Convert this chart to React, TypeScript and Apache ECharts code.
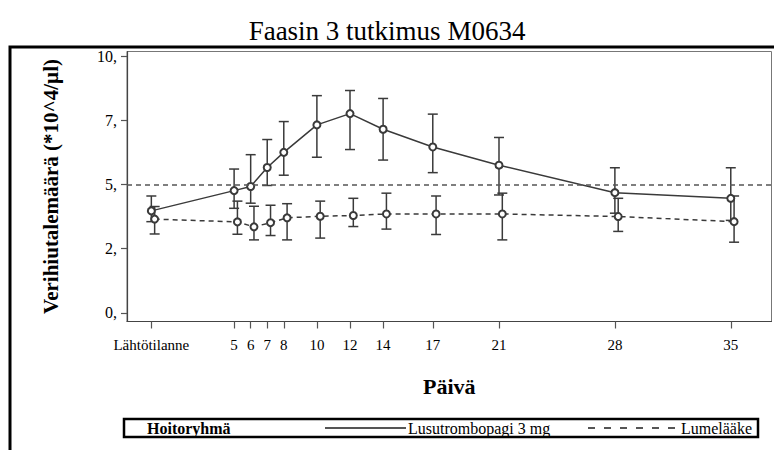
import React, { useEffect, useRef } from "react";
import * as echarts from "echarts";

const days = [0, 5, 6, 7, 8, 10, 12, 14, 17, 21, 28, 35];
const xTickLabels = ["Lähtötilanne", "5", "6", "7", "8", "10", "12", "14", "17", "21", "28", "35"];
const yTicks = [0, 2.5, 5, 7.5, 10];

const lusMean = [3.97, 4.76, 4.92, 5.66, 6.25, 7.32, 7.76, 7.15, 6.46, 5.75, 4.68, 4.46];
const lusLow = [3.55, 4.07, 4.27, 4.96, 5.36, 6.06, 6.36, 5.95, 5.46, 4.59, 3.88, 3.6];
const lusHigh = [4.55, 5.6, 6.16, 6.75, 7.45, 8.46, 8.66, 8.35, 7.74, 6.83, 5.65, 5.65];

const plaMean = [3.65, 3.54, 3.35, 3.51, 3.7, 3.76, 3.79, 3.85, 3.85, 3.85, 3.75, 3.55];
const plaLow = [3.07, 3.06, 2.84, 3.01, 2.84, 2.91, 3.36, 3.26, 3.05, 2.84, 3.17, 2.75];
const plaHigh = [4.14, 4.35, 4.15, 4.19, 4.25, 4.35, 4.46, 4.66, 4.55, 4.66, 4.46, 4.55];

const referenceLine = 5;

const DODGE = 0.2;
const LINE_COLOR = "#3a3a3a";
const FONT = "'Liberation Serif', 'Times New Roman', 'DejaVu Serif', serif";

function errorSeries(name: string, lows: number[], highs: number[], dx: number) {
  return {
    name: name + " err",
    type: "custom",
    z: 3,
    data: days.map((d, i) => [d + dx, lows[i], highs[i]]),
    renderItem: (params: any, api: any) => {
      const x = api.value(0);
      const lo = api.coord([x, api.value(1)]);
      const hi = api.coord([x, api.value(2)]);
      const hw = 5;
      const style = { stroke: LINE_COLOR, lineWidth: 1.5 };
      return {
        type: "group",
        children: [
          { type: "line", shape: { x1: lo[0], y1: lo[1], x2: hi[0], y2: hi[1] }, style },
          { type: "line", shape: { x1: lo[0] - hw, y1: lo[1], x2: lo[0] + hw, y2: lo[1] }, style },
          { type: "line", shape: { x1: hi[0] - hw, y1: hi[1], x2: hi[0] + hw, y2: hi[1] }, style },
        ],
      };
    },
  };
}

export default function App() {
  const ref = useRef<HTMLDivElement>(null);
  useEffect(() => {
    document.body.style.margin = "0";
    const chart = echarts.init(ref.current!, null, { renderer: "svg" });
    const legendY = 428;
    chart.setOption({
      animation: false,
      backgroundColor: "#fff",
      textStyle: { fontFamily: FONT },
      title: {
        text: "Faasin 3 tutkimus M0634",
        left: "center",
        top: 12,
        textStyle: { fontFamily: FONT, fontSize: 27, fontWeight: "normal", color: "#000" },
      },
      grid: {
        left: 127,
        right: 2.5,
        top: 51.5,
        bottom: 128.5,
        show: true,
        borderColor: "#777",
        borderWidth: 1,
      },
      xAxis: {
        type: "value",
        min: -1.47,
        max: 37.46,
        name: "Päivä",
        nameLocation: "middle",
        nameGap: 54,
        nameTextStyle: { fontFamily: FONT, fontSize: 22, fontWeight: "bold", color: "#000" },
        axisLine: { show: true, onZero: false, lineStyle: { color: "#444", width: 1.2 } },
        axisTick: { show: true, length: 7, customValues: days, lineStyle: { color: "#555", width: 1.2 } },
        axisLabel: {
          customValues: days,
          margin: 16,
          fontFamily: FONT,
          fontSize: 15,
          color: "#000",
          formatter: (v: number) => {
            const i = days.indexOf(v);
            return i >= 0 ? xTickLabels[i] : "";
          },
        },
        splitLine: { show: false },
      },
      yAxis: {
        type: "value",
        min: -0.34,
        max: 10.18,
        name: "Verihiutalemäärä (*10^4/µl)",
        nameLocation: "middle",
        nameGap: 66,
        nameTextStyle: { fontFamily: FONT, fontSize: 21, fontWeight: "bold", color: "#000" },
        axisLine: { show: true, onZero: false, lineStyle: { color: "#444", width: 1.2 } },
        axisTick: { show: true, length: 6, customValues: yTicks, lineStyle: { color: "#555", width: 1.2 } },
        axisLabel: {
          customValues: yTicks,
          margin: 10,
          fontFamily: FONT,
          fontSize: 16,
          color: "#000",
          formatter: (v: number) => Math.floor(v) + ",",
        },
        splitLine: { show: false },
      },
      series: [
        {
          name: "Lusutrombopagi 3 mg",
          type: "line",
          z: 4,
          data: days.map((d, i) => [d, lusMean[i]]),
          symbol: "emptyCircle",
          symbolSize: 7,
          itemStyle: { color: LINE_COLOR, borderColor: LINE_COLOR, borderWidth: 1 },
          lineStyle: { color: LINE_COLOR, width: 1.5, type: "solid" },
          markLine: {
            silent: true,
            symbol: "none",
            label: { show: false },
            lineStyle: { color: "#555", width: 1.5, type: [5, 4] },
            data: [{ yAxis: referenceLine }],
          },
        },
        {
          name: "Lumelääke",
          type: "line",
          z: 4,
          data: days.map((d, i) => [d + DODGE, plaMean[i]]),
          symbol: "emptyCircle",
          symbolSize: 7,
          itemStyle: { color: LINE_COLOR, borderColor: LINE_COLOR, borderWidth: 1 },
          lineStyle: { color: LINE_COLOR, width: 1.5, type: [5, 4] },
        },
        errorSeries("Lusutrombopagi 3 mg", lusLow, lusHigh, 0),
        errorSeries("Lumelääke", plaLow, plaHigh, DODGE),
      ],
      graphic: [
        {
          type: "rect",
          shape: { x: 10, y: 47, width: 800, height: 450 },
          style: { fill: "none", stroke: "#000", lineWidth: 3 },
          silent: true,
          z: 0,
        },
        {
          type: "rect",
          shape: { x: 124, y: 419, width: 634, height: 18 },
          style: { fill: "#fff", stroke: "#000", lineWidth: 2.5 },
          z: 10,
        },
        {
          type: "text",
          x: 147,
          y: legendY,
          style: { text: "Hoitoryhmä", font: `bold 16px ${FONT}`, fill: "#000", verticalAlign: "middle" },
          z: 11,
        },
        {
          type: "line",
          shape: { x1: 325, y1: legendY, x2: 406, y2: legendY },
          style: { stroke: "#555", lineWidth: 2 },
          z: 11,
        },
        {
          type: "text",
          x: 408,
          y: legendY,
          style: { text: "Lusutrombopagi 3 mg", font: `16px ${FONT}`, fill: "#000", verticalAlign: "middle" },
          z: 11,
        },
        {
          type: "line",
          shape: { x1: 588, y1: legendY, x2: 679, y2: legendY },
          style: { stroke: "#555", lineWidth: 2, lineDash: [7, 9] },
          z: 11,
        },
        {
          type: "text",
          x: 681,
          y: legendY,
          style: { text: "Lumelääke", font: `16px ${FONT}`, fill: "#000", verticalAlign: "middle" },
          z: 11,
        },
      ],
    });
    return () => chart.dispose();
  }, []);
  return <div ref={ref} style={{ width: 774, height: 450 }} />;
}
